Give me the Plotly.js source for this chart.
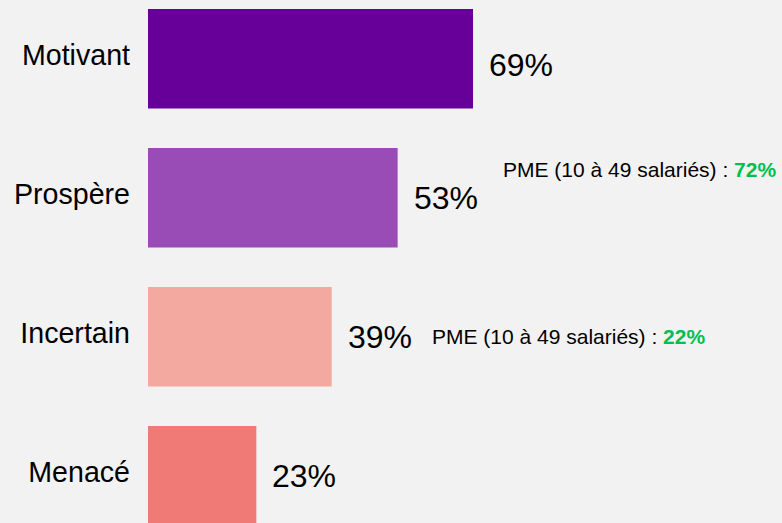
<!DOCTYPE html>
<html>
<head>
<meta charset="utf-8">
<script src="https://cdn.plot.ly/plotly-3.0.1.min.js"></script>
<style>
html,body{margin:0;padding:0;background:#f2f2f2;}
#chart{width:782px;height:523px;}
</style>
</head>
<body>
<div id="chart"></div>
<script>
const categories = ["Motivant", "Prospère", "Incertain", "Menacé"];
const values = [69, 53, 39, 23];
const valueLabels = ["69%", "53%", "39%", "23%"];
const barColors = ["#660099", "#994cb6", "#f4a9a0", "#f07a75"];
const pmeCategories = ["Prospère", "Incertain"];
const pmeValues = ["72%", "22%"];

const font = "Liberation Sans, Arial, sans-serif";

const trace = {
  type: "bar",
  orientation: "h",
  y: categories,
  x: values,
  marker: {color: barColors},
  hoverinfo: "none"
};

const valueYShift = [-6, 0, 0, -0.5];
const annotations = categories.map((c, i) => ({
  x: values[i], y: c, xref: "x", yref: "y",
  text: valueLabels[i], showarrow: false,
  xanchor: "left", yanchor: "middle", xshift: 14, yshift: valueYShift[i],
  font: {family: font, size: 32, color: "#000000"}
}));

const pmeX = [74.9, 59.8];
const pmeYShift = [28.6, 0];
pmeCategories.forEach((c, i) => {
  annotations.push({
    x: pmeX[i], y: c, xref: "x", yref: "y",
    text: "PME (10 à 49 salariés) : <b><span style='color:#00bf50'>" + pmeValues[i] + "</span></b>",
    showarrow: false, xanchor: "left", yanchor: "middle", yshift: pmeYShift[i],
    font: {family: font, size: 21, color: "#000000"}
  });
});

const layout = {
  width: 782, height: 523,
  margin: {l: 148, r: 0, t: 0, b: 0, pad: 0},
  paper_bgcolor: "#f2f2f2",
  plot_bgcolor: "#f2f2f2",
  bargap: 0.283,
  showlegend: false,
  xaxis: {range: [0, 134.6], visible: false, fixedrange: true},
  yaxis: {
    type: "category",
    categoryorder: "array", categoryarray: categories,
    range: [3.34, -0.423],
    showgrid: false, zeroline: false, showline: false,
    ticks: "", ticklabelstandoff: 17, ticklabelshift: 4,
    tickfont: {family: font, size: 28.6, color: "#000000"},
    fixedrange: true
  },
  annotations: annotations
};

Plotly.newPlot("chart", [trace], layout, {displayModeBar: false, staticPlot: true});
</script>
</body>
</html>
